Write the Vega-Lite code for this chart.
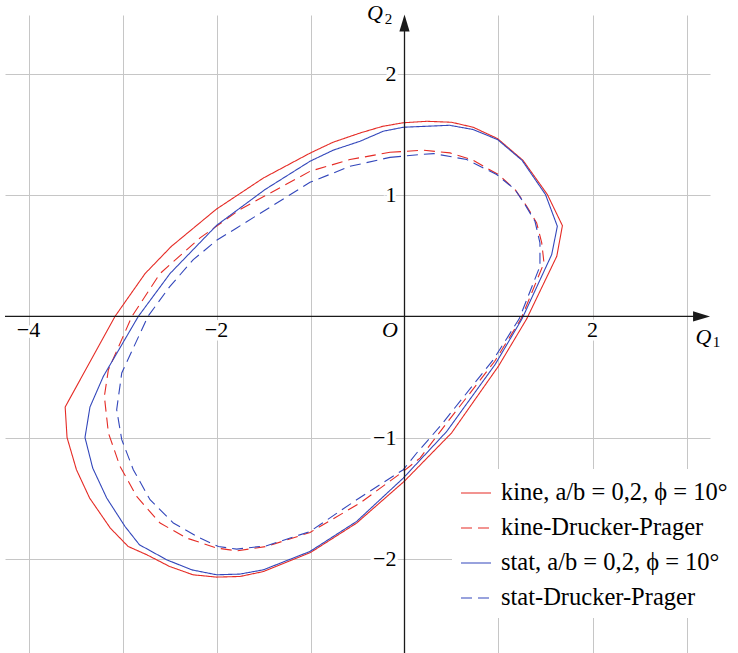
{
  "$schema": "https://vega.github.io/schema/vega-lite/v6.json",
  "width": 705,
  "height": 638,
  "autosize": {"type": "none"},
  "padding": {"left": 5, "top": 15, "right": 28, "bottom": 0},
  "background": "white",
  "config": {
    "view": {"stroke": null},
    "legend": {
      "symbolType": "stroke",
      "symbolSize": 900,
      "symbolStrokeWidth": 1.2,
      "labelFont": "Liberation Serif",
      "labelFontSize": 24.5,
      "labelColor": "black",
      "labelOffset": 9,
      "labelLimit": 400,
      "rowPadding": 7,
      "padding": 8,
      "fillColor": "white",
      "strokeColor": null
    }
  },
  "datasets": {
    "curves": [
      {"s": "kine, a/b = 0,2, ϕ = 10°", "i": 0, "x": -0.23, "y": 1.571},
      {"s": "kine, a/b = 0,2, ϕ = 10°", "i": 1, "x": -0.01, "y": 1.6},
      {"s": "kine, a/b = 0,2, ϕ = 10°", "i": 2, "x": 0.24, "y": 1.612},
      {"s": "kine, a/b = 0,2, ϕ = 10°", "i": 3, "x": 0.5, "y": 1.604},
      {"s": "kine, a/b = 0,2, ϕ = 10°", "i": 4, "x": 0.73, "y": 1.563},
      {"s": "kine, a/b = 0,2, ϕ = 10°", "i": 5, "x": 0.99, "y": 1.469},
      {"s": "kine, a/b = 0,2, ϕ = 10°", "i": 6, "x": 1.26, "y": 1.29},
      {"s": "kine, a/b = 0,2, ϕ = 10°", "i": 7, "x": 1.52, "y": 1.007},
      {"s": "kine, a/b = 0,2, ϕ = 10°", "i": 8, "x": 1.68, "y": 0.75},
      {"s": "kine, a/b = 0,2, ϕ = 10°", "i": 9, "x": 1.62, "y": 0.497},
      {"s": "kine, a/b = 0,2, ϕ = 10°", "i": 10, "x": 1.3, "y": -0.02},
      {"s": "kine, a/b = 0,2, ϕ = 10°", "i": 11, "x": 1.0, "y": -0.41},
      {"s": "kine, a/b = 0,2, ϕ = 10°", "i": 12, "x": 0.5, "y": -0.963},
      {"s": "kine, a/b = 0,2, ϕ = 10°", "i": 13, "x": 0.0, "y": -1.36},
      {"s": "kine, a/b = 0,2, ϕ = 10°", "i": 14, "x": -0.51, "y": -1.707},
      {"s": "kine, a/b = 0,2, ϕ = 10°", "i": 15, "x": -1.0, "y": -1.95},
      {"s": "kine, a/b = 0,2, ϕ = 10°", "i": 16, "x": -1.5, "y": -2.107},
      {"s": "kine, a/b = 0,2, ϕ = 10°", "i": 17, "x": -1.75, "y": -2.148},
      {"s": "kine, a/b = 0,2, ϕ = 10°", "i": 18, "x": -2.0, "y": -2.153},
      {"s": "kine, a/b = 0,2, ϕ = 10°", "i": 19, "x": -2.25, "y": -2.134},
      {"s": "kine, a/b = 0,2, ϕ = 10°", "i": 20, "x": -2.5, "y": -2.065},
      {"s": "kine, a/b = 0,2, ϕ = 10°", "i": 21, "x": -2.74, "y": -1.969},
      {"s": "kine, a/b = 0,2, ϕ = 10°", "i": 22, "x": -2.94, "y": -1.9},
      {"s": "kine, a/b = 0,2, ϕ = 10°", "i": 23, "x": -3.13, "y": -1.748},
      {"s": "kine, a/b = 0,2, ϕ = 10°", "i": 24, "x": -3.35, "y": -1.5},
      {"s": "kine, a/b = 0,2, ϕ = 10°", "i": 25, "x": -3.49, "y": -1.266},
      {"s": "kine, a/b = 0,2, ϕ = 10°", "i": 26, "x": -3.59, "y": -1.0},
      {"s": "kine, a/b = 0,2, ϕ = 10°", "i": 27, "x": -3.61, "y": -0.748},
      {"s": "kine, a/b = 0,2, ϕ = 10°", "i": 28, "x": -3.08, "y": 0.0},
      {"s": "kine, a/b = 0,2, ϕ = 10°", "i": 29, "x": -2.76, "y": 0.354},
      {"s": "kine, a/b = 0,2, ϕ = 10°", "i": 30, "x": -2.48, "y": 0.579},
      {"s": "kine, a/b = 0,2, ϕ = 10°", "i": 31, "x": -2.0, "y": 0.887},
      {"s": "kine, a/b = 0,2, ϕ = 10°", "i": 32, "x": -1.5, "y": 1.144},
      {"s": "kine, a/b = 0,2, ϕ = 10°", "i": 33, "x": -1.0, "y": 1.351},
      {"s": "kine, a/b = 0,2, ϕ = 10°", "i": 34, "x": -0.76, "y": 1.439},
      {"s": "kine, a/b = 0,2, ϕ = 10°", "i": 35, "x": -0.47, "y": 1.516},
      {"s": "kine, a/b = 0,2, ϕ = 10°", "i": 36, "x": -0.23, "y": 1.571},

      {"s": "kine-Drucker-Prager", "i": 0, "x": -0.154, "y": 1.356},
      {"s": "kine-Drucker-Prager", "i": 1, "x": 0.2, "y": 1.373},
      {"s": "kine-Drucker-Prager", "i": 2, "x": 0.484, "y": 1.351},
      {"s": "kine-Drucker-Prager", "i": 3, "x": 0.715, "y": 1.296},
      {"s": "kine-Drucker-Prager", "i": 4, "x": 0.998, "y": 1.172},
      {"s": "kine-Drucker-Prager", "i": 5, "x": 1.176, "y": 1.048},
      {"s": "kine-Drucker-Prager", "i": 6, "x": 1.3, "y": 0.91},
      {"s": "kine-Drucker-Prager", "i": 7, "x": 1.406, "y": 0.773},
      {"s": "kine-Drucker-Prager", "i": 8, "x": 1.46, "y": 0.607},
      {"s": "kine-Drucker-Prager", "i": 9, "x": 1.484, "y": 0.442},
      {"s": "kine-Drucker-Prager", "i": 10, "x": 1.24, "y": -0.02},
      {"s": "kine-Drucker-Prager", "i": 11, "x": 0.96, "y": -0.37},
      {"s": "kine-Drucker-Prager", "i": 12, "x": 0.45, "y": -0.88},
      {"s": "kine-Drucker-Prager", "i": 13, "x": 0.165, "y": -1.17},
      {"s": "kine-Drucker-Prager", "i": 14, "x": -0.013, "y": -1.28},
      {"s": "kine-Drucker-Prager", "i": 15, "x": -0.473, "y": -1.541},
      {"s": "kine-Drucker-Prager", "i": 16, "x": -1.005, "y": -1.784},
      {"s": "kine-Drucker-Prager", "i": 17, "x": -1.466, "y": -1.9},
      {"s": "kine-Drucker-Prager", "i": 18, "x": -1.785, "y": -1.936},
      {"s": "kine-Drucker-Prager", "i": 19, "x": -1.998, "y": -1.913},
      {"s": "kine-Drucker-Prager", "i": 20, "x": -2.316, "y": -1.831},
      {"s": "kine-Drucker-Prager", "i": 21, "x": -2.6, "y": -1.707},
      {"s": "kine-Drucker-Prager", "i": 22, "x": -2.849, "y": -1.487},
      {"s": "kine-Drucker-Prager", "i": 23, "x": -3.026, "y": -1.239},
      {"s": "kine-Drucker-Prager", "i": 24, "x": -3.15, "y": -0.963},
      {"s": "kine-Drucker-Prager", "i": 25, "x": -3.193, "y": -0.66},
      {"s": "kine-Drucker-Prager", "i": 26, "x": -3.15, "y": -0.44},
      {"s": "kine-Drucker-Prager", "i": 27, "x": -2.9, "y": 0.0},
      {"s": "kine-Drucker-Prager", "i": 28, "x": -2.601, "y": 0.354},
      {"s": "kine-Drucker-Prager", "i": 29, "x": -2.175, "y": 0.649},
      {"s": "kine-Drucker-Prager", "i": 30, "x": -1.75, "y": 0.883},
      {"s": "kine-Drucker-Prager", "i": 31, "x": -1.005, "y": 1.199},
      {"s": "kine-Drucker-Prager", "i": 32, "x": -0.58, "y": 1.296},
      {"s": "kine-Drucker-Prager", "i": 33, "x": -0.154, "y": 1.356},

      {"s": "stat, a/b = 0,2, ϕ = 10°", "i": 0, "x": -0.226, "y": 1.53},
      {"s": "stat, a/b = 0,2, ϕ = 10°", "i": 1, "x": -0.01, "y": 1.563},
      {"s": "stat, a/b = 0,2, ϕ = 10°", "i": 2, "x": 0.48, "y": 1.579},
      {"s": "stat, a/b = 0,2, ϕ = 10°", "i": 3, "x": 0.73, "y": 1.544},
      {"s": "stat, a/b = 0,2, ϕ = 10°", "i": 4, "x": 0.99, "y": 1.461},
      {"s": "stat, a/b = 0,2, ϕ = 10°", "i": 5, "x": 1.25, "y": 1.29},
      {"s": "stat, a/b = 0,2, ϕ = 10°", "i": 6, "x": 1.5, "y": 1.007},
      {"s": "stat, a/b = 0,2, ϕ = 10°", "i": 7, "x": 1.626, "y": 0.745},
      {"s": "stat, a/b = 0,2, ϕ = 10°", "i": 8, "x": 1.566, "y": 0.511},
      {"s": "stat, a/b = 0,2, ϕ = 10°", "i": 9, "x": 1.25, "y": -0.02},
      {"s": "stat, a/b = 0,2, ϕ = 10°", "i": 10, "x": 0.963, "y": -0.398},
      {"s": "stat, a/b = 0,2, ϕ = 10°", "i": 11, "x": 0.449, "y": -0.95},
      {"s": "stat, a/b = 0,2, ϕ = 10°", "i": 12, "x": -0.013, "y": -1.335},
      {"s": "stat, a/b = 0,2, ϕ = 10°", "i": 13, "x": -0.509, "y": -1.693},
      {"s": "stat, a/b = 0,2, ϕ = 10°", "i": 14, "x": -1.005, "y": -1.941},
      {"s": "stat, a/b = 0,2, ϕ = 10°", "i": 15, "x": -1.502, "y": -2.093},
      {"s": "stat, a/b = 0,2, ϕ = 10°", "i": 16, "x": -1.75, "y": -2.128},
      {"s": "stat, a/b = 0,2, ϕ = 10°", "i": 17, "x": -1.998, "y": -2.134},
      {"s": "stat, a/b = 0,2, ϕ = 10°", "i": 18, "x": -2.264, "y": -2.093},
      {"s": "stat, a/b = 0,2, ϕ = 10°", "i": 19, "x": -2.53, "y": -2.01},
      {"s": "stat, a/b = 0,2, ϕ = 10°", "i": 20, "x": -2.82, "y": -1.886},
      {"s": "stat, a/b = 0,2, ϕ = 10°", "i": 21, "x": -2.973, "y": -1.735},
      {"s": "stat, a/b = 0,2, ϕ = 10°", "i": 22, "x": -3.168, "y": -1.5},
      {"s": "stat, a/b = 0,2, ϕ = 10°", "i": 23, "x": -3.317, "y": -1.252},
      {"s": "stat, a/b = 0,2, ϕ = 10°", "i": 24, "x": -3.399, "y": -1.0},
      {"s": "stat, a/b = 0,2, ϕ = 10°", "i": 25, "x": -3.346, "y": -0.748},
      {"s": "stat, a/b = 0,2, ϕ = 10°", "i": 26, "x": -3.204, "y": -0.495},
      {"s": "stat, a/b = 0,2, ϕ = 10°", "i": 27, "x": -2.832, "y": 0.0},
      {"s": "stat, a/b = 0,2, ϕ = 10°", "i": 28, "x": -2.495, "y": 0.354},
      {"s": "stat, a/b = 0,2, ϕ = 10°", "i": 29, "x": -1.998, "y": 0.753},
      {"s": "stat, a/b = 0,2, ϕ = 10°", "i": 30, "x": -1.484, "y": 1.048},
      {"s": "stat, a/b = 0,2, ϕ = 10°", "i": 31, "x": -1.005, "y": 1.282},
      {"s": "stat, a/b = 0,2, ϕ = 10°", "i": 32, "x": -0.757, "y": 1.374},
      {"s": "stat, a/b = 0,2, ϕ = 10°", "i": 33, "x": -0.473, "y": 1.447},
      {"s": "stat, a/b = 0,2, ϕ = 10°", "i": 34, "x": -0.226, "y": 1.53},

      {"s": "stat-Drucker-Prager", "i": 0, "x": -0.154, "y": 1.314},
      {"s": "stat-Drucker-Prager", "i": 1, "x": 0.165, "y": 1.337},
      {"s": "stat-Drucker-Prager", "i": 2, "x": 0.31, "y": 1.345},
      {"s": "stat-Drucker-Prager", "i": 3, "x": 0.662, "y": 1.296},
      {"s": "stat-Drucker-Prager", "i": 4, "x": 0.98, "y": 1.172},
      {"s": "stat-Drucker-Prager", "i": 5, "x": 1.176, "y": 1.048},
      {"s": "stat-Drucker-Prager", "i": 6, "x": 1.282, "y": 0.924},
      {"s": "stat-Drucker-Prager", "i": 7, "x": 1.388, "y": 0.786},
      {"s": "stat-Drucker-Prager", "i": 8, "x": 1.441, "y": 0.607},
      {"s": "stat-Drucker-Prager", "i": 9, "x": 1.441, "y": 0.414},
      {"s": "stat-Drucker-Prager", "i": 10, "x": 1.22, "y": -0.02},
      {"s": "stat-Drucker-Prager", "i": 11, "x": 0.945, "y": -0.357},
      {"s": "stat-Drucker-Prager", "i": 12, "x": 0.378, "y": -0.908},
      {"s": "stat-Drucker-Prager", "i": 13, "x": 0.13, "y": -1.128},
      {"s": "stat-Drucker-Prager", "i": 14, "x": -0.013, "y": -1.266},
      {"s": "stat-Drucker-Prager", "i": 15, "x": -0.509, "y": -1.514},
      {"s": "stat-Drucker-Prager", "i": 16, "x": -1.005, "y": -1.776},
      {"s": "stat-Drucker-Prager", "i": 17, "x": -1.466, "y": -1.894},
      {"s": "stat-Drucker-Prager", "i": 18, "x": -1.785, "y": -1.922},
      {"s": "stat-Drucker-Prager", "i": 19, "x": -1.98, "y": -1.9},
      {"s": "stat-Drucker-Prager", "i": 20, "x": -2.175, "y": -1.831},
      {"s": "stat-Drucker-Prager", "i": 21, "x": -2.459, "y": -1.707},
      {"s": "stat-Drucker-Prager", "i": 22, "x": -2.707, "y": -1.514},
      {"s": "stat-Drucker-Prager", "i": 23, "x": -2.885, "y": -1.266},
      {"s": "stat-Drucker-Prager", "i": 24, "x": -3.008, "y": -1.018},
      {"s": "stat-Drucker-Prager", "i": 25, "x": -3.062, "y": -0.77},
      {"s": "stat-Drucker-Prager", "i": 26, "x": -3.008, "y": -0.467},
      {"s": "stat-Drucker-Prager", "i": 27, "x": -2.73, "y": 0.0},
      {"s": "stat-Drucker-Prager", "i": 28, "x": -2.495, "y": 0.249},
      {"s": "stat-Drucker-Prager", "i": 29, "x": -2.247, "y": 0.469},
      {"s": "stat-Drucker-Prager", "i": 30, "x": -1.998, "y": 0.629},
      {"s": "stat-Drucker-Prager", "i": 31, "x": -1.785, "y": 0.731},
      {"s": "stat-Drucker-Prager", "i": 32, "x": -1.005, "y": 1.108},
      {"s": "stat-Drucker-Prager", "i": 33, "x": -0.58, "y": 1.24},
      {"s": "stat-Drucker-Prager", "i": 34, "x": -0.154, "y": 1.314}
    ],
    "axes": [
      {"x": -4.25, "x2": 3.1, "y": 0, "y2": 0},
      {"x": 0, "x2": 0, "y": -2.78, "y2": 2.36}
    ],
    "arrows": [
      {"x": 3.16, "y": 0, "dir": "right"},
      {"x": 0, "y": 2.424, "dir": "up"}
    ],
    "xticks": [
      {"x": -4, "y": 0, "t": "−4"},
      {"x": -2, "y": 0, "t": "−2"},
      {"x": 2, "y": 0, "t": "2"}
    ],
    "yticks": [
      {"x": 0, "y": 2, "t": "2"},
      {"x": 0, "y": 1, "t": "1"},
      {"x": 0, "y": -1, "t": "−1"},
      {"x": 0, "y": -2, "t": "−2"}
    ],
    "names": [
      {"x": -0.314, "y": 2.51, "t": "Q"},
      {"x": 3.18, "y": -0.167, "t": "Q"},
      {"x": -0.154, "y": -0.113, "t": "O"}
    ],
    "subs": [
      {"x": -0.17, "y": 2.461, "t": "2"},
      {"x": 3.319, "y": -0.208, "t": "1"}
    ]
  },
  "encoding": {
    "x": {
      "field": "x",
      "type": "quantitative",
      "scale": {"domain": [-4.25, 3.25], "nice": false, "zero": false},
      "axis": {"values": [-4, -3, -2, -1, 1, 2, 3], "grid": true, "gridColor": "#c6c6c6", "gridWidth": 1, "labels": false, "ticks": false, "domain": false, "title": null}
    },
    "y": {
      "field": "y",
      "type": "quantitative",
      "scale": {"domain": [-2.78, 2.49], "nice": false, "zero": false},
      "axis": {"values": [-2, -1, 1, 2], "grid": true, "gridColor": "#c6c6c6", "gridWidth": 1, "labels": false, "ticks": false, "domain": false, "title": null}
    }
  },
  "layer": [
    {
      "data": {"name": "xticks"},
      "mark": {"type": "text", "font": "Liberation Serif", "dy": 14, "fontSize": 22, "align": "center", "baseline": "middle", "fill": "white", "stroke": "white", "strokeWidth": 7},
      "encoding": {"text": {"field": "t"}}
    },
    {
      "data": {"name": "yticks"},
      "mark": {"type": "text", "font": "Liberation Serif", "dx": -8, "fontSize": 22, "align": "right", "baseline": "middle", "fill": "white", "stroke": "white", "strokeWidth": 7},
      "encoding": {"text": {"field": "t"}}
    },
    {
      "data": {"name": "curves"},
      "mark": {"type": "line", "strokeWidth": 1.1, "clip": true},
      "encoding": {
        "order": {"field": "i", "type": "quantitative"},
        "color": {
          "field": "s",
          "type": "nominal",
          "scale": {
            "domain": ["kine, a/b = 0,2, ϕ = 10°", "kine-Drucker-Prager", "stat, a/b = 0,2, ϕ = 10°", "stat-Drucker-Prager"],
            "range": ["#e52b25", "#e52b25", "#3347bb", "#3347bb"]
          },
          "legend": {"title": null, "orient": "none", "legendX": 447, "legendY": 454}
        },
        "strokeDash": {
          "field": "s",
          "type": "nominal",
          "scale": {
            "domain": ["kine, a/b = 0,2, ϕ = 10°", "kine-Drucker-Prager", "stat, a/b = 0,2, ϕ = 10°", "stat-Drucker-Prager"],
            "range": [[1, 0], [11, 6], [1, 0], [11, 6]]
          },
          "legend": {"title": null, "orient": "none", "legendX": 447, "legendY": 454}
        }
      }
    },
    {
      "data": {"name": "axes"},
      "mark": {"type": "rule", "color": "#1a1a1a", "strokeWidth": 1.3},
      "encoding": {
        "x2": {"field": "x2"},
        "y2": {"field": "y2"}
      }
    },
    {
      "data": {"name": "arrows"},
      "mark": {"type": "point", "filled": true, "fill": "#1a1a1a", "strokeWidth": 0, "opacity": 1, "size": 289},
      "encoding": {
        "shape": {
          "field": "dir",
          "type": "nominal",
          "scale": {"domain": ["right", "up"], "range": ["M1,0L-1,-0.6L-1,0.6Z", "M0,-1L0.6,1L-0.6,1Z"]},
          "legend": null
        }
      }
    },
    {
      "data": {"name": "xticks"},
      "mark": {"type": "text", "font": "Liberation Serif", "dy": 14, "fontSize": 22, "align": "center", "baseline": "middle", "fill": "black"},
      "encoding": {"text": {"field": "t"}}
    },
    {
      "data": {"name": "yticks"},
      "mark": {"type": "text", "font": "Liberation Serif", "dx": -8, "fontSize": 22, "align": "right", "baseline": "middle", "fill": "black"},
      "encoding": {"text": {"field": "t"}}
    },
    {
      "data": {"name": "names"},
      "mark": {"type": "text", "font": "Liberation Serif", "fontSize": 22, "fontStyle": "italic", "align": "center", "baseline": "middle", "fill": "black"},
      "encoding": {"text": {"field": "t"}}
    },
    {
      "data": {"name": "subs"},
      "mark": {"type": "text", "font": "Liberation Serif", "fontSize": 15, "align": "center", "baseline": "middle", "fill": "black"},
      "encoding": {"text": {"field": "t"}}
    }
  ]
}
